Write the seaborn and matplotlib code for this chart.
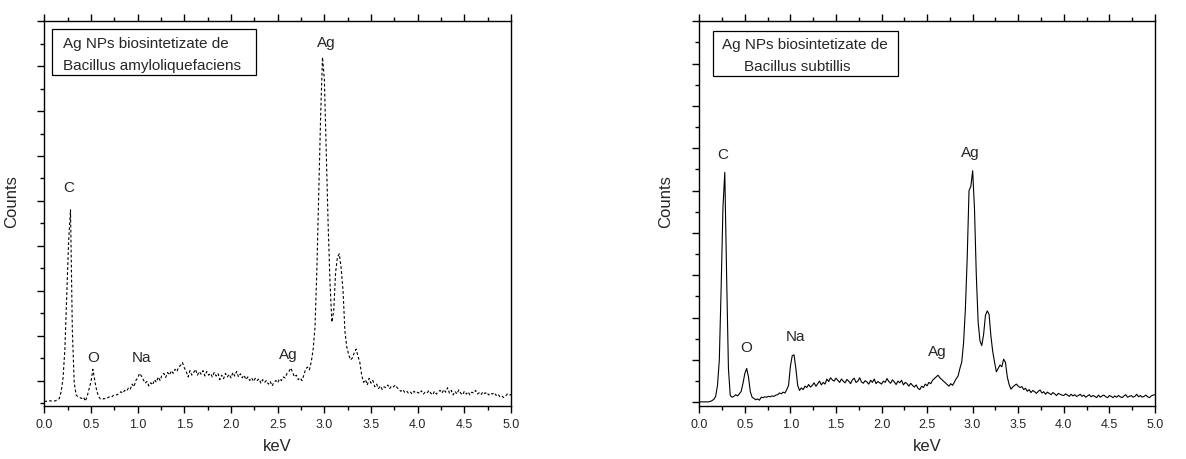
import numpy as np
import matplotlib
matplotlib.use("Agg")
import matplotlib.pyplot as plt
from matplotlib.patches import Rectangle
from matplotlib.ticker import MultipleLocator, FixedLocator, FormatStrFormatter
import seaborn as sns

# EDS spectra, one value per 0.02 keV channel from 0.00 to 5.00 keV
step = 0.02

counts_amylo = [
    3, 4, 3, 5, 4, 4, 5, 7, 10, 25,
    55, 120, 240, 360, 430, 160, 45, 18, 14, 12,
    10, 13, 4, 16, 32, 48, 75, 50, 28, 15,
    9, 8, 10, 9, 12, 14, 13, 17, 19, 18,
    22, 25, 22, 28, 26, 33, 30, 42, 36, 50,
    56, 66, 60, 52, 44, 48, 38, 45, 40, 52,
    46, 58, 50, 62, 66, 57, 68, 62, 72, 66,
    75, 70, 80, 84, 90, 78, 70, 58, 72, 62,
    68, 75, 62, 70, 64, 72, 60, 70, 62, 66,
    58, 68, 60, 66, 52, 62, 54, 66, 58, 64,
    56, 68, 60, 70, 58, 65, 56, 62, 52, 58,
    50, 56, 48, 55, 50, 54, 44, 52, 46, 50,
    42, 48, 38, 46, 50, 45, 54, 50, 58, 56,
    66, 70, 78, 68, 58, 62, 52, 56, 50, 62,
    76, 80, 74, 92, 120, 170, 300, 470, 640, 770,
    720, 560, 400, 270, 180, 205, 290, 325, 332, 300,
    250, 160, 125, 108, 96, 100, 112, 120, 104, 90,
    62, 46, 52, 40, 55, 44, 50, 36, 42, 32,
    38, 30, 36, 34, 40, 32, 38, 36, 40, 34,
    30, 26, 30, 24, 27, 22, 25, 20, 26, 22,
    24, 21, 27, 20, 24, 22, 28, 22, 18, 26,
    20, 25, 28, 22, 30, 24, 34, 22, 28, 18,
    26, 20, 29, 22, 18, 26, 20, 25, 18, 24,
    22, 28, 20, 23, 19, 25, 21, 24, 18, 22,
    20, 23, 17, 20, 14, 16, 12, 15, 20, 17,
    19,
]

counts_subtilis = [
    1, 1, 1, 1, 1, 1, 2, 4, 7, 14,
    40, 100, 270, 460, 543, 300, 80, 16, 12, 14,
    18, 15, 20, 26, 45, 68, 80, 60, 25, 12,
    9, 6, 8, 5, 12, 11, 13, 12, 14, 13,
    15, 14, 17, 18, 22, 20, 24, 22, 30, 40,
    85, 110, 112, 80, 40, 28, 34, 30, 38, 35,
    42, 36, 40, 46, 38, 44, 50, 41, 47, 43,
    55, 49, 58, 53, 50, 57, 52, 47, 55, 50,
    46, 54, 50, 44, 53, 57, 47, 50, 58, 48,
    45, 51, 48, 43, 52, 47, 55, 44, 49, 46,
    43, 50, 47, 56, 49, 45, 53, 48, 42, 50,
    46, 52, 41, 47, 44, 38, 45, 40, 36, 41,
    33, 30, 38, 35, 43, 39, 47, 44, 52, 56,
    60, 64, 58, 54, 50, 46, 42, 38, 44, 40,
    48, 56, 62, 80, 95, 140, 220, 340, 500, 510,
    547, 457, 300, 190, 145, 134, 160, 205, 216, 208,
    157, 120, 95, 72, 80, 88, 84, 102, 94, 60,
    42, 31, 36, 40, 43, 38, 35, 37, 30, 33,
    26, 30, 23, 28, 25, 21, 26, 29, 22, 25,
    19, 24, 21, 18, 23, 20, 16, 21, 19, 17,
    16, 20, 17, 14, 19, 15, 18, 14, 16, 19,
    14, 17, 12, 15, 18, 13, 16, 14, 11, 17,
    12, 15, 17, 13, 11, 16, 14, 11, 15, 12,
    16, 13, 11, 15, 18, 12, 14, 16, 12, 14,
    19, 13, 16, 12, 14, 17, 13, 11, 15, 17,
    18,
]

# peak labels: element, keV, counts
peaks_amylo = [("C", 0.265, 480), ("O", 0.525, 102), ("Na", 1.043, 102),
               ("Ag", 2.615, 109), ("Ag", 3.02, 803)]
peaks_subtilis = [("C", 0.263, 587), ("O", 0.52, 130), ("Na", 1.06, 156),
                  ("Ag", 2.61, 122), ("Ag", 2.97, 592)]

box_amylo = ["Ag NPs biosintetizate de", "Bacillus amyloliquefaciens"]
box_subtilis = ["Ag NPs biosintetizate de", "Bacillus subtillis"]

sns.set_theme(style="ticks")
plt.rcParams["font.family"] = ["Liberation Sans", "DejaVu Sans"]

fig = plt.figure(figsize=(11.86, 4.6), dpi=100)
ax1 = fig.add_axes([0.0374, 0.1159, 0.3935, 0.8357])
ax2 = fig.add_axes([0.5896, 0.1159, 0.3842, 0.8357])

energy1 = np.round(np.arange(len(counts_amylo)) * step, 2)
energy2 = np.round(np.arange(len(counts_subtilis)) * step, 2)

sns.lineplot(x=energy1, y=counts_amylo, ax=ax1, color="black", linewidth=0.8,
             linestyle=(0, (2.5, 2)), estimator=None)
sns.lineplot(x=energy2, y=counts_subtilis, ax=ax2, color="black", linewidth=0.8,
             estimator=None)

ax1.set_ylim(-6, 850)
ax1.yaxis.set_major_locator(FixedLocator(np.arange(50, 851, 100)))
ax1.yaxis.set_minor_locator(FixedLocator(np.arange(0, 801, 100)))
ax2.set_ylim(-8, 900)
ax2.yaxis.set_major_locator(FixedLocator(np.arange(0, 901, 100)))
ax2.yaxis.set_minor_locator(FixedLocator(np.arange(50, 851, 100)))

for ax, peaks in [(ax1, peaks_amylo), (ax2, peaks_subtilis)]:
    ax.set_xlim(0, 5)
    ax.xaxis.set_major_locator(MultipleLocator(0.5))
    ax.xaxis.set_minor_locator(MultipleLocator(0.25))
    ax.xaxis.set_major_formatter(FormatStrFormatter("%.1f"))
    ax.tick_params(which="both", direction="out", top=True, right=False,
                   labelleft=False, color="black", width=1)
    ax.tick_params(which="major", length=5, labelsize=9, pad=4)
    ax.tick_params(which="minor", length=3)
    for s in ax.spines.values():
        s.set_visible(True)
        s.set_color("black")
        s.set_linewidth(1)
    ax.set_xlabel("keV", fontsize=12)
    ax.set_ylabel("Counts", fontsize=12)
    for name, xe, yc in peaks:
        ax.text(xe, yc, name, ha="center", va="center", fontsize=11)

ax1.xaxis.set_label_coords(0.5, -0.085)
ax2.xaxis.set_label_coords(0.5, -0.085)
ax1.yaxis.set_label_coords(-0.054, 0.533)
ax2.yaxis.set_label_coords(-0.057, 0.533)

# legend-like boxes
ax1.add_patch(Rectangle((0.0159, 0.860), 0.4378, 0.1197, transform=ax1.transAxes,
                        fill=False, edgecolor="black", linewidth=0.9))
ax1.text(0.0394, 0.9436, box_amylo[0], transform=ax1.transAxes, ha="left",
         va="center", fontsize=11)
ax1.text(0.0394, 0.886, box_amylo[1], transform=ax1.transAxes, ha="left",
         va="center", fontsize=11)

ax2.add_patch(Rectangle((0.030, 0.8585), 0.4053, 0.117, transform=ax2.transAxes,
                        fill=False, edgecolor="black", linewidth=0.9))
ax2.text(0.0505, 0.941, box_subtilis[0], transform=ax2.transAxes, ha="left",
         va="center", fontsize=11)
ax2.text(0.098, 0.8845, box_subtilis[1], transform=ax2.transAxes, ha="left",
         va="center", fontsize=11)

fig.savefig("out.png", dpi=100)
